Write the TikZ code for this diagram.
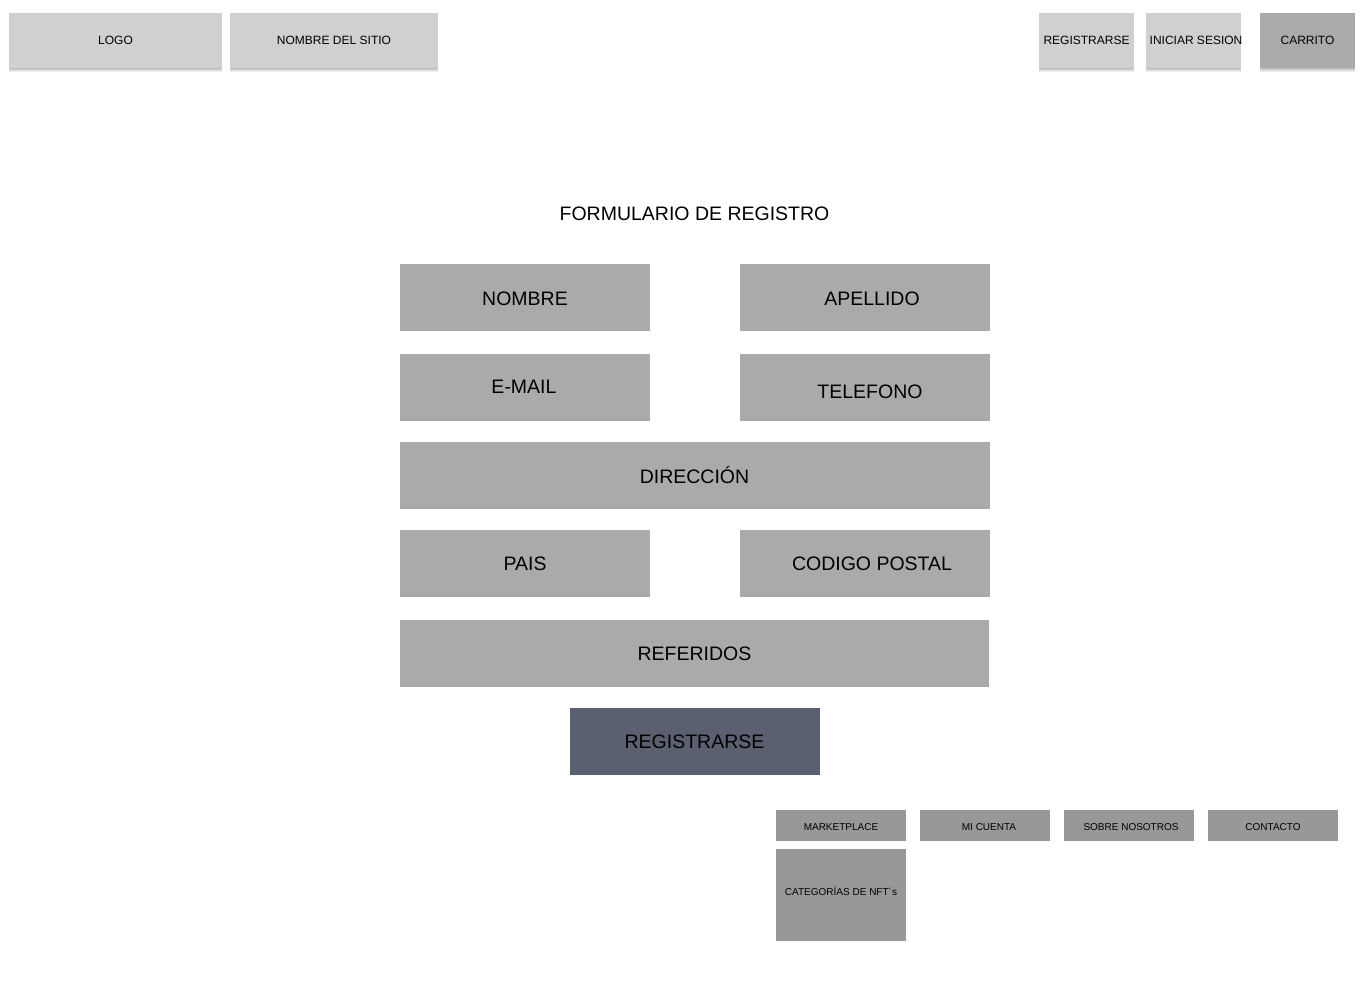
\documentclass[tikz,border=0pt]{standalone}
\usepackage{fontspec}
\setmainfont{Liberation Sans}
\definecolor{hdr}{HTML}{D0D0D0}
\definecolor{cart}{HTML}{AAAAAA}
\definecolor{fld}{HTML}{AAAAAA}
\definecolor{btn}{HTML}{5B6070}
\definecolor{ftr}{HTML}{989898}
\newcommand{\shbox}[5]{%
  \foreach \s in {1,2,3,4}{\fill[black,opacity=0.07] (#1+1-\s*0.3,#2+\s) rectangle (#3-1+\s*0.3,#4+\s);}
  \fill[#5] (#1,#2) rectangle (#3,#4);}
\begin{document}
\begin{tikzpicture}[x=1pt,y=-1pt,
  hlab/.style={font=\fontsize{12}{14}\selectfont},
  fbox/.style={fill=fld},
  flab/.style={font=\fontsize{19.5}{22}\selectfont},
  mbox/.style={fill=ftr},
  mlab/.style={font=\fontsize{10}{12}\selectfont}]
\useasboundingbox (0,0) rectangle (1366,1000);
\fill[white] (0,0) rectangle (1366,1000);
% header
\shbox{9}{13}{222}{68}{hdr}
\node[hlab] (logo) at (115.5,40.5) {LOGO};
\shbox{230}{13}{438}{68}{hdr}
\node[hlab] (sitio) at (334,40.5) {NOMBRE DEL SITIO};
\shbox{1039}{13}{1134}{68}{hdr}
\node[hlab] (reg) at (1086.5,40.5) {REGISTRARSE};
\shbox{1146}{13}{1241}{68}{hdr}
\node[hlab] (ini) at (1196,40.5) {INICIAR SESION};
\shbox{1260}{13}{1355}{68}{cart}
\node[hlab] (car) at (1307.5,40.5) {CARRITO};
% title
\node[flab] (title) at (694.5,213.5) {FORMULARIO DE REGISTRO};
% form fields
\path[fbox] (400,264) rectangle (650,331);
\node[flab] (nombre) at (525,298.5) {NOMBRE};
\path[fbox] (740,264) rectangle (990,331);
\node[flab] (apellido) at (872,298.5) {APELLIDO};
\path[fbox] (400,354) rectangle (650,421);
\node[flab] (email) at (524,387) {E-MAIL};
\path[fbox] (740,354) rectangle (990,421);
\node[flab] (tel) at (870,391.5) {TELEFONO};
\path[fbox] (400,442) rectangle (990,509);
\node[flab] (dir) at (694.5,475.5) {DIRECCIÓN};
\path[fbox] (400,530) rectangle (650,597);
\node[flab] (pais) at (525,563.5) {PAIS};
\path[fbox] (740,530) rectangle (990,597);
\node[flab] (cp) at (872,563.5) {CODIGO POSTAL};
\path[fbox] (400,620) rectangle (989,687);
\node[flab] (ref) at (694.5,653.5) {REFERIDOS};
\path[fill=btn] (570,708) rectangle (820,775);
\node[flab] (btnreg) at (694.5,741.5) {REGISTRARSE};
% footer menu
\path[mbox] (776,810) rectangle (906,841);
\node[mlab] (mk) at (841,827) {MARKETPLACE};
\path[mbox] (920,810) rectangle (1050,841);
\node[mlab] (mc) at (989,827) {MI CUENTA};
\path[mbox] (1064,810) rectangle (1194,841);
\node[mlab] (sn) at (1131,827) {SOBRE NOSOTROS};
\path[mbox] (1208,810) rectangle (1338,841);
\node[mlab] (ct) at (1273,827) {CONTACTO};
\path[mbox] (776,849) rectangle (906,941);
\node[mlab] (cat) at (841,891) {CATEGORÍAS DE NFT´s};
\end{tikzpicture}
\end{document}
